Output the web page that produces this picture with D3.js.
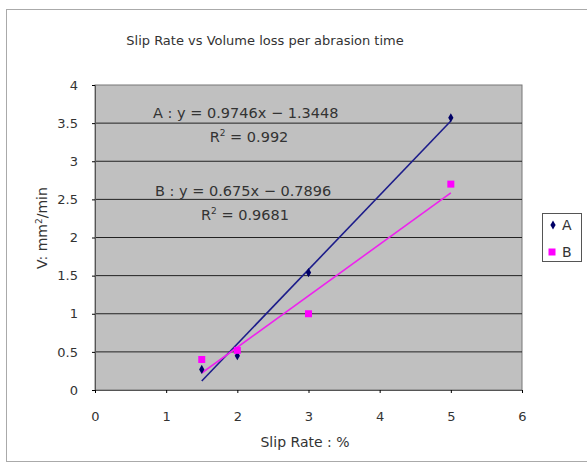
<!DOCTYPE html>
<html>
<script src='https://d3js.org/d3.v7.min.js'></script>
<style>
 body {margin:0; background:#fff;}
 text {font-family: 'DejaVu Sans', sans-serif; fill:#333;}
</style>
<body onload='init()'>
<svg width=587 height=468></svg>
<script>
// data
const slipRate = [1.5, 2, 3, 5];
const volA = [0.27, 0.45, 1.54, 3.57];
const volB = [0.40, 0.52, 1.00, 2.70];
const seriesNames = ['A', 'B'];
const trendA = [0.9746, -1.3448];   // slope, intercept
const trendB = [0.675, -0.7896];
const xTicks = [0, 1, 2, 3, 4, 5, 6];
const yTicks = [0, 0.5, 1, 1.5, 2, 2.5, 3, 3.5, 4];

function init() {
 var svg = d3.select('svg');
 var x = d3.scaleLinear().domain([0, 6]).range([95, 522]);
 var y = d3.scaleLinear().domain([0, 4]).range([390, 85]);

 // outer chart frame
 svg.append('rect').attr('x', 6.5).attr('y', 9.5).attr('width', 585).attr('height', 452)
  .attr('fill', '#fff').attr('stroke', '#aaa');

 svg.append('text').attr('x', 265).attr('y', 45).attr('text-anchor', 'middle')
  .style('font-size', '13px').text('Slip  Rate vs Volume loss per abrasion time');

 // plot area
 svg.append('rect').attr('x', x(0)).attr('y', y(4)).attr('width', x(6) - x(0)).attr('height', y(0) - y(4))
  .attr('fill', '#c0c0c0').attr('stroke', '#777');

 svg.append('g').selectAll('line').data(yTicks.slice(1, -1)).enter().append('line')
  .attr('x1', x(0)).attr('x2', x(6))
  .attr('y1', d => y(d)).attr('y2', d => y(d))
  .attr('stroke', '#222').attr('stroke-width', 1);

 var ya = svg.append('g').attr('transform', 'translate(' + x(0) + ',0)')
  .call(d3.axisLeft(y).tickValues(yTicks).tickSize(3).tickPadding(14).tickFormat(d3.format('~g')));
 ya.select('.domain').attr('stroke', '#555');
 ya.selectAll('text').style('font-size', '13px').attr('fill', '#333');

 var xa = svg.append('g').attr('transform', 'translate(0,' + y(0) + ')')
  .call(d3.axisBottom(x).tickValues(xTicks).tickSize(3).tickPadding(19).tickFormat(d3.format('d')));
 xa.select('.domain').attr('stroke', '#555');
 xa.selectAll('text').style('font-size', '13px').attr('fill', '#333');

 svg.append('text').attr('x', 305).attr('y', 447).attr('text-anchor', 'middle')
  .style('font-size', '14px').text('Slip Rate : %');

 var yl = svg.append('text').attr('transform', 'translate(47,228) rotate(-90)').attr('text-anchor', 'middle')
  .style('font-size', '14px');
 yl.append('tspan').text('V: mm');
 yl.append('tspan').attr('dy', -5).style('font-size', '9px').text('2');
 yl.append('tspan').attr('dy', 5).text('/min');

 // trend lines
 var xr = d3.extent(slipRate);
 [[trendA, '#1c1c8a'], [trendB, '#ee22ee']].forEach(function (t) {
  svg.append('line')
   .attr('x1', x(xr[0])).attr('y1', y(t[0][0] * xr[0] + t[0][1]))
   .attr('x2', x(xr[1])).attr('y2', y(t[0][0] * xr[1] + t[0][1]))
   .attr('stroke', t[1]).attr('stroke-width', 1.6);
 });

 // markers
 svg.append('g').selectAll('path').data(slipRate).enter().append('path')
  .attr('d', d3.symbol().type(d3.symbolDiamond).size(24))
  .attr('transform', (d, i) => 'translate(' + x(d) + ',' + y(volA[i]) + ')')
  .attr('fill', '#000066');
 svg.append('g').selectAll('rect').data(slipRate).enter().append('rect')
  .attr('x', d => x(d) - 3.5).attr('y', (d, i) => y(volB[i]) - 3.5)
  .attr('width', 7).attr('height', 7).attr('fill', '#ff00ff');

 // equations
 function eq(tx, ty, label, t, r2, rx) {
  svg.append('text').attr('x', tx).attr('y', ty).style('font-size', '14.5px')
   .text(label + ' : y = ' + t[0] + 'x \u2212 ' + Math.abs(t[1]));
  var r = svg.append('text').attr('x', rx).attr('y', ty + 24).attr('text-anchor', 'middle').style('font-size', '14.5px');
  r.append('tspan').text('R');
  r.append('tspan').attr('dy', -6).style('font-size', '9px').text('2');
  r.append('tspan').attr('dy', 6).text(' = ' + r2);
 }
 eq(153, 118, seriesNames[0], trendA, 0.992, 249);
 eq(155, 196, seriesNames[1], trendB, 0.9681, 245);

 // legend
 svg.append('rect').attr('x', 542.5).attr('y', 213.5).attr('width', 39).attr('height', 48)
  .attr('fill', '#fff').attr('stroke', '#555');
 svg.append('path').attr('d', d3.symbol().type(d3.symbolDiamond).size(24))
  .attr('transform', 'translate(553,225)').attr('fill', '#000066');
 svg.append('rect').attr('x', 548.5).attr('y', 248.5).attr('width', 7).attr('height', 7).attr('fill', '#ff00ff');
 svg.append('text').attr('x', 562).attr('y', 230).style('font-size', '14px').text(seriesNames[0]);
 svg.append('text').attr('x', 562).attr('y', 257).style('font-size', '14px').text(seriesNames[1]);
}
</script>
</body>
</html>
